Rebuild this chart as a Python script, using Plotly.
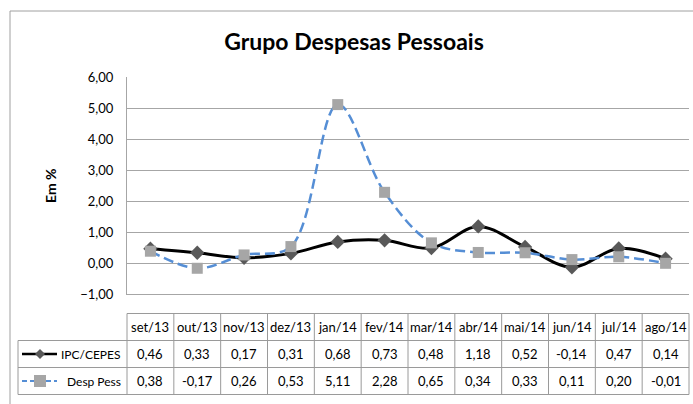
import plotly.graph_objects as go

months = ['set/13', 'out/13', 'nov/13', 'dez/13', 'jan/14', 'fev/14',
          'mar/14', 'abr/14', 'mai/14', 'jun/14', 'jul/14', 'ago/14']
ipc_cepes = [0.46, 0.33, 0.17, 0.31, 0.68, 0.73, 0.48, 1.18, 0.52, -0.14, 0.47, 0.14]
desp_pess = [0.38, -0.17, 0.26, 0.53, 5.11, 2.28, 0.65, 0.34, 0.33, 0.11, 0.20, -0.01]

FONT = 'Lato'
GRID = '#a6a6a6'
TBL = '#9a9a9a'

# plot area in pixels (693x404 page)
L, R, T, B = 127, 689, 77, 294


def px(x):
    return (x - L) / (R - L)


def py(y):
    return (B - y) / (B - T)


def fmt(v):
    return f"{v:.2f}".replace('.', ',')


fig = go.Figure()
fig.add_trace(go.Scatter(
    x=months, y=ipc_cepes, name='IPC/CEPES', mode='lines+markers',
    line=dict(color='black', width=3, shape='spline', smoothing=1),
    marker=dict(symbol='diamond', size=11, color='#595959'),
))
fig.add_trace(go.Scatter(
    x=months, y=desp_pess, name='Desp Pess', mode='lines+markers',
    line=dict(color='#558ED5', width=2.5, dash='10px,5px', shape='spline', smoothing=1),
    marker=dict(symbol='square', size=11, color='#A6A6A6'),
))

fig.update_layout(
    width=693, height=404,
    margin=dict(l=L, r=693 - R, t=T, b=404 - B),
    paper_bgcolor='white', plot_bgcolor='white',
    showlegend=False,
    separators=',.',
    font=dict(family=FONT, size=13, color='black'),
    title=dict(text='<b>Grupo Despesas Pessoais</b>', x=354 / 693, xanchor='center',
               y=1 - 42 / 404, yanchor='middle', font=dict(size=23, family=FONT)),
)
fig.update_yaxes(range=[-1, 6], dtick=1, tickformat='.2f', showgrid=True, gridcolor=GRID,
                 gridwidth=1, zeroline=False, showline=True, linecolor=GRID,
                 ticks='', ticklabelstandoff=10, tickfont=dict(size=13))
fig.update_xaxes(range=[-0.5, 11.5], showticklabels=False, showgrid=False, zeroline=False,
                 showline=True, linecolor=GRID, ticks='')

# y axis title
fig.add_annotation(text='<b>Em %</b>', xref='paper', yref='paper', x=px(50), y=py(186),
                   textangle=-90, showarrow=False, font=dict(size=14),
                   xanchor='center', yanchor='middle')

# outer chart border (cropped at right and bottom)
fig.add_shape(type='line', xref='paper', yref='paper', x0=px(10), x1=px(693), y0=py(11), y1=py(11),
              line=dict(color='#a0a0a0', width=1))
fig.add_shape(type='line', xref='paper', yref='paper', x0=px(10), x1=px(10), y0=py(11), y1=py(404),
              line=dict(color='#a0a0a0', width=1))

# data table
rows_y = [313.5, 340.5, 367.5, 394.5]
n = len(months)
fig.add_shape(type='line', xref='paper', yref='paper', x0=0, x1=1, y0=py(rows_y[0]), y1=py(rows_y[0]),
              line=dict(color=TBL, width=1))
for ry in rows_y[1:]:
    fig.add_shape(type='line', xref='paper', yref='paper', x0=px(18), x1=1, y0=py(ry), y1=py(ry),
                  line=dict(color=TBL, width=1))
for k in range(n + 1):
    fig.add_shape(type='line', xref='paper', yref='paper', x0=k / n, x1=k / n,
                  y0=py(rows_y[0]), y1=py(rows_y[3]), line=dict(color=TBL, width=1))
fig.add_shape(type='line', xref='paper', yref='paper', x0=px(18), x1=px(18),
              y0=py(rows_y[1]), y1=py(rows_y[3]), line=dict(color=TBL, width=1))

centers = [(rows_y[i] + rows_y[i + 1]) / 2 for i in range(3)]
for i, m in enumerate(months):
    fig.add_annotation(text=m, x=m, xref='x', yref='paper', y=py(centers[0]), showarrow=False,
                       xanchor='center', yanchor='middle')
    fig.add_annotation(text=fmt(ipc_cepes[i]), x=m, xref='x', yref='paper', y=py(centers[1]),
                       showarrow=False, xanchor='center', yanchor='middle')
    fig.add_annotation(text=fmt(desp_pess[i]), x=m, xref='x', yref='paper', y=py(centers[2]),
                       showarrow=False, xanchor='center', yanchor='middle')

# legend keys inside the table
keys = [('IPC/CEPES', centers[1], dict(color='black', width=2.5), 'diamond'),
        ('Desp Pess', centers[2], dict(color='#558ED5', width=2, dash='5px,3px'), 'square')]
for name, cy, ln, sym in keys:
    fig.add_shape(type='line', xref='paper', yref='paper', x0=px(22), x1=px(57), y0=py(cy), y1=py(cy),
                  line=ln)
    if sym == 'diamond':
        path = (f'M{px(40)},{py(cy - 5)} L{px(45)},{py(cy)} '
                f'L{px(40)},{py(cy + 5)} L{px(35)},{py(cy)} Z')
        fig.add_shape(type='path', xref='paper', yref='paper', path=path,
                      fillcolor='#595959', line=dict(width=0))
    else:
        fig.add_shape(type='rect', xref='paper', yref='paper', x0=px(34), x1=px(46),
                      y0=py(cy - 6), y1=py(cy + 6), fillcolor='#A6A6A6', line=dict(width=0))
    fig.add_annotation(text=name, xref='paper', yref='paper', x=px(123), y=py(cy), xanchor='right',
                       yanchor='middle', showarrow=False, font=dict(size=12))

fig.write_html("out.html", config={'displayModeBar': False},
               post_script="document.body.style.margin='0';")
